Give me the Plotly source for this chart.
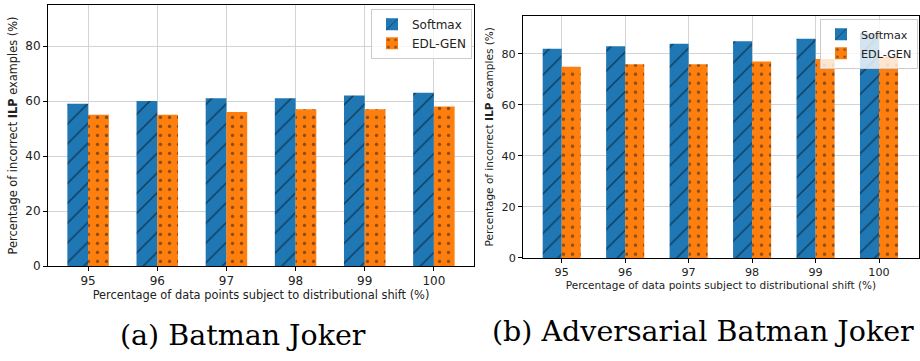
import plotly.graph_objects as go

shift = [95, 96, 97, 98, 99, 100]
softmax_a = [59, 60, 61, 61, 62, 63]
edl_a = [55, 55, 56, 57, 57, 58]
softmax_b = [82, 83, 84, 85, 86, 88]
edl_b = [75, 76, 76, 77, 78, 79]

BLUE = "#1f77b4"
ORANGE = "#ff7f0e"
W, H = 920, 361

fig = go.Figure()

def add_pair(sm, edl, xa, ya, legend, show):
    fig.add_trace(go.Bar(
        x=shift, y=sm, name="Softmax", offset=-0.3, width=0.3,
        xaxis=xa, yaxis=ya, legend=legend, showlegend=show,
        marker=dict(color=BLUE, line=dict(width=0),
                    pattern=dict(shape="/", fgcolor="black", size=14, solidity=0.1)),
    ))
    fig.add_trace(go.Bar(
        x=shift, y=edl, name="EDL-GEN", offset=0.0, width=0.3,
        xaxis=xa, yaxis=ya, legend=legend, showlegend=show,
        marker=dict(color=ORANGE, line=dict(width=0),
                    pattern=dict(shape=".", fgcolor="#1a1a1a", size=9, solidity=0.12)),
    ))

add_pair(softmax_a, edl_a, "x", "y", "legend", True)
add_pair(softmax_b, edl_b, "x2", "y2", "legend2", True)

def px_x(p):
    return p / W

def px_y(p):
    return 1 - p / H

def axis_common(fs):
    return dict(
        showline=True, linecolor="black", linewidth=1, mirror=True,
        showgrid=True, gridcolor="#d3d3d3", gridwidth=1,
        ticks="outside", ticklen=4, tickcolor="black", zeroline=False,
        tickfont=dict(family="DejaVu Sans", size=fs, color="#222"),
    )

xlabel = "Percentage of data points subject to distributional shift (%)"
ylabel = "Percentage of incorrect <b>ILP</b> examples (%)"

fig.update_layout(
    width=W, height=H, margin=dict(l=0, r=0, t=0, b=0),
    paper_bgcolor="white", plot_bgcolor="white",
    font=dict(family="DejaVu Sans", color="#222"),
    xaxis=dict(domain=[px_x(48), px_x(474)], range=[94.42, 100.58], anchor="y",
               tickvals=shift, ticktext=[str(s) for s in shift],
               title=dict(text=xlabel, font=dict(size=11.4), standoff=3), **axis_common(12)),
    yaxis=dict(domain=[px_y(271.3), px_y(5)], range=[0, 95], anchor="x",
               tickvals=[0, 20, 40, 60, 80],
               title=dict(text=ylabel, font=dict(size=11.4), standoff=5), **axis_common(12)),
    xaxis2=dict(domain=[px_x(523), px_x(919)], range=[94.39, 100.63], anchor="y2",
                tickvals=shift, ticktext=[str(s) for s in shift],
                title=dict(text=xlabel, font=dict(size=10.5), standoff=3), **axis_common(11.2)),
    yaxis2=dict(domain=[px_y(263), px_y(16)], range=[0, 95], anchor="x2",
                tickvals=[0, 20, 40, 60, 80],
                title=dict(text=ylabel, font=dict(size=10.5), standoff=5), **axis_common(11.2)),
    legend=dict(x=px_x(472), y=px_y(9), xanchor="right", yanchor="top",
                bgcolor="rgba(255,255,255,0.8)", bordercolor="#cccccc", borderwidth=1,
                font=dict(size=12), tracegroupgap=0),
    legend2=dict(x=px_x(918), y=px_y(19), xanchor="right", yanchor="top",
                 bgcolor="rgba(255,255,255,0.8)", bordercolor="#cccccc", borderwidth=1,
                 font=dict(size=11.2), tracegroupgap=0),
    annotations=[
        dict(text="(a) Batman Joker", x=px_x(243), y=px_y(342), xref="paper", yref="paper",
             xanchor="center", yanchor="middle", showarrow=False,
             font=dict(family="DejaVu Serif", size=28.5, color="black")),
        dict(text="(b) Adversarial Batman Joker", x=px_x(703), y=px_y(338), xref="paper", yref="paper",
             xanchor="center", yanchor="middle", showarrow=False,
             font=dict(family="DejaVu Serif", size=28.5, color="black")),
    ],
)

fig.write_html("out.html")
